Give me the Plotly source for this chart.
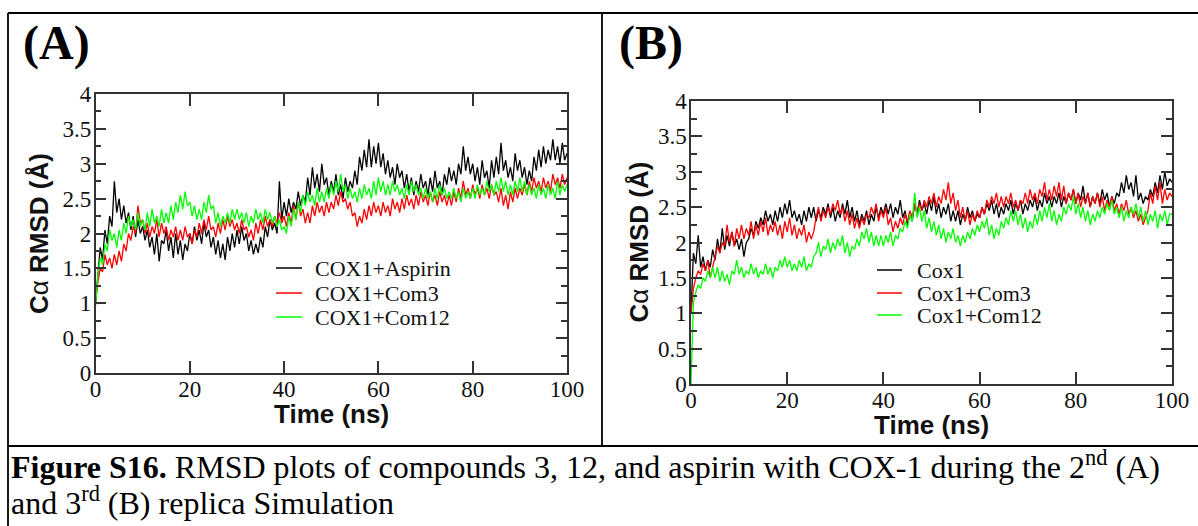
import plotly.graph_objects as go

# Sampling grid of the trajectories: one frame every 0.5 ns over 100 ns
TIME_NS = [i * 0.5 for i in range(201)]

# ---- Replica 2 (panel A), C-alpha RMSD in angstrom ----
A_ASPIRIN = [
    1.00, 1.45, 1.80, 1.62, 2.05, 1.85, 2.25, 2.10, 2.75, 2.30,
    2.50, 2.20, 2.40, 2.15, 2.30, 2.05, 2.25, 1.95, 2.20, 2.00,
    2.10, 1.90, 2.05, 1.80, 1.95, 1.70, 2.00, 1.60, 1.90, 1.85,
    2.05, 1.75, 1.95, 1.65, 2.00, 1.70, 1.90, 1.62, 1.85, 1.75,
    2.00, 1.85, 2.10, 1.90, 2.05, 1.85, 2.15, 1.95, 2.05, 1.80,
    1.95, 1.70, 1.90, 1.65, 1.85, 1.62, 1.95, 1.75, 2.00, 1.80,
    2.05, 1.85, 2.10, 1.90, 2.00, 1.75, 1.90, 1.70, 1.85, 1.72,
    1.95, 1.80, 2.10, 1.95, 2.20, 2.05, 2.15, 2.00, 2.75, 2.20,
    2.45, 2.25, 2.50, 2.30, 2.45, 2.35, 2.60, 2.40, 2.55, 2.45,
    2.80, 2.55, 2.95, 2.65, 2.85, 2.60, 3.00, 2.70, 2.80, 2.55,
    2.75, 2.60, 2.85, 2.55, 2.70, 2.50, 2.80, 2.60, 2.75, 2.65,
    2.90, 2.70, 3.10, 2.90, 3.20, 2.95, 3.35, 2.95, 3.25, 3.00,
    3.30, 2.95, 3.15, 2.85, 3.05, 2.80, 2.95, 2.70, 3.00, 2.80,
    2.90, 2.65, 2.85, 2.60, 2.80, 2.55, 2.75, 2.60, 2.85, 2.65,
    2.75, 2.55, 2.80, 2.60, 2.90, 2.65, 2.75, 2.55, 2.85, 2.70,
    2.95, 2.75, 2.90, 2.70, 3.00, 2.85, 3.25, 2.90, 3.10, 2.85,
    3.00, 2.75, 2.95, 2.70, 3.05, 2.80, 2.90, 2.65, 3.05, 2.80,
    3.10, 2.85, 3.30, 2.90, 3.05, 2.80, 2.95, 2.75, 3.15, 2.90,
    3.05, 2.80, 2.95, 2.70, 2.90, 2.75, 3.10, 2.90, 3.20, 2.95,
    3.25, 3.00, 3.20, 3.05, 3.35, 3.05, 3.25, 3.00, 3.30, 3.05,
    3.15,
]
A_COM3 = [
    1.00, 1.30, 1.50, 1.45, 1.70, 1.55, 1.65, 1.50, 1.70, 1.55,
    1.75, 1.60, 1.85, 1.75, 2.00, 1.90, 2.10, 2.00, 2.40, 2.15,
    2.20, 2.00, 2.15, 1.95, 2.10, 2.00, 2.20, 1.95, 2.15, 2.00,
    2.10, 1.90, 2.05, 1.95, 2.10, 1.90, 2.05, 1.90, 2.10, 1.95,
    2.00, 1.85, 2.05, 1.95, 2.15, 2.00, 2.20, 2.05, 2.25, 2.05,
    2.10, 1.95, 2.15, 2.00, 2.20, 2.05, 2.25, 2.10, 2.20, 2.05,
    2.15, 2.00, 2.20, 2.05, 2.10, 1.95, 2.05, 1.90, 2.15, 2.00,
    2.20, 2.05, 2.25, 2.10, 2.20, 2.10, 2.25, 2.15, 2.30, 2.15,
    2.25, 2.10, 2.30, 2.15, 2.40, 2.20, 2.45, 2.25, 2.35, 2.15,
    2.30, 2.15, 2.40, 2.25, 2.45, 2.30, 2.40, 2.25, 2.45, 2.30,
    2.45, 2.35, 2.55, 2.40, 2.60, 2.45, 2.50, 2.35, 2.45, 2.25,
    2.30, 2.10, 2.25, 2.15, 2.35, 2.20, 2.40, 2.25, 2.45, 2.30,
    2.40, 2.25, 2.45, 2.30, 2.40, 2.25, 2.50, 2.35, 2.45, 2.30,
    2.50, 2.35, 2.55, 2.40, 2.50, 2.35, 2.55, 2.40, 2.60, 2.45,
    2.55, 2.40, 2.60, 2.45, 2.55, 2.40, 2.60, 2.45, 2.55, 2.40,
    2.55, 2.40, 2.60, 2.45, 2.65, 2.50, 2.75, 2.55, 2.65, 2.50,
    2.70, 2.55, 2.65, 2.50, 2.70, 2.55, 2.65, 2.50, 2.70, 2.55,
    2.60, 2.45, 2.65, 2.40, 2.55, 2.35, 2.60, 2.45, 2.65, 2.50,
    2.65, 2.55, 2.70, 2.55, 2.75, 2.60, 2.80, 2.65, 2.75, 2.60,
    2.80, 2.65, 2.75, 2.60, 2.85, 2.70, 2.80, 2.65, 2.85, 2.70,
    2.80,
]
A_COM12 = [
    0.95, 1.40, 1.65, 1.55, 1.85, 1.75, 2.05, 1.90, 2.00, 1.80,
    2.05, 1.90, 2.15, 2.00, 2.25, 2.10, 2.20, 2.05, 2.30, 2.10,
    2.20, 2.05, 2.30, 2.10, 2.35, 2.15, 2.25, 2.10, 2.35, 2.15,
    2.30, 2.15, 2.40, 2.20, 2.45, 2.30, 2.55, 2.35, 2.60, 2.40,
    2.45, 2.25, 2.40, 2.20, 2.35, 2.20, 2.45, 2.30, 2.55, 2.35,
    2.40, 2.15, 2.30, 2.10, 2.25, 2.15, 2.30, 2.15, 2.35, 2.20,
    2.35, 2.20, 2.30, 2.15, 2.30, 2.10, 2.25, 2.15, 2.35, 2.20,
    2.30, 2.15, 2.35, 2.20, 2.30, 2.15, 2.25, 2.10, 2.20, 2.05,
    2.10, 2.00, 2.25, 2.10, 2.35, 2.20, 2.45, 2.30, 2.55, 2.40,
    2.60, 2.45, 2.55, 2.40, 2.65, 2.45, 2.60, 2.45, 2.65, 2.50,
    2.70, 2.55, 2.75, 2.60, 2.85, 2.60, 2.70, 2.50, 2.65, 2.50,
    2.60, 2.45, 2.65, 2.50, 2.70, 2.55, 2.65, 2.50, 2.75, 2.55,
    2.80, 2.60, 2.75, 2.55, 2.70, 2.55, 2.75, 2.60, 2.70, 2.55,
    2.65, 2.50, 2.70, 2.55, 2.75, 2.60, 2.70, 2.55, 2.65, 2.50,
    2.65, 2.50, 2.60, 2.45, 2.65, 2.50, 2.70, 2.55, 2.65, 2.50,
    2.60, 2.50, 2.65, 2.50, 2.60, 2.45, 2.65, 2.50, 2.60, 2.50,
    2.65, 2.50, 2.70, 2.55, 2.65, 2.55, 2.75, 2.60, 2.70, 2.55,
    2.75, 2.60, 2.80, 2.60, 2.75, 2.55, 2.70, 2.55, 2.75, 2.60,
    2.80, 2.60, 2.75, 2.55, 2.70, 2.55, 2.65, 2.50, 2.70, 2.55,
    2.65, 2.50, 2.70, 2.55, 2.65, 2.50, 2.75, 2.55, 2.70, 2.60,
    2.70,
]

# ---- Replica 3 (panel B), C-alpha RMSD in angstrom ----
B_COX1 = [
    1.00, 1.85, 1.70, 2.10, 1.65, 1.80, 1.60, 1.75, 1.65, 1.90,
    1.75, 2.05, 1.85, 2.20, 1.90, 2.10, 1.95, 2.15, 1.95, 2.05,
    1.90, 2.05, 1.80, 2.00, 2.05, 2.20, 2.10, 2.30, 2.20, 2.35,
    2.25, 2.45, 2.30, 2.40, 2.25, 2.45, 2.30, 2.50, 2.35, 2.55,
    2.40, 2.60, 2.35, 2.45, 2.30, 2.40, 2.25, 2.45, 2.30, 2.50,
    2.35, 2.50, 2.30, 2.45, 2.35, 2.50, 2.40, 2.55, 2.35, 2.50,
    2.30, 2.45, 2.35, 2.55, 2.40, 2.60, 2.35, 2.50, 2.30, 2.45,
    2.25, 2.40, 2.30, 2.45, 2.25, 2.40, 2.30, 2.50, 2.35, 2.50,
    2.40, 2.55, 2.40, 2.55, 2.35, 2.50, 2.40, 2.60, 2.35, 2.45,
    2.25, 2.40, 2.30, 2.55, 2.40, 2.60, 2.45, 2.55, 2.40, 2.60,
    2.45, 2.65, 2.40, 2.55, 2.35, 2.50, 2.40, 2.55, 2.30, 2.45,
    2.30, 2.45, 2.25, 2.40, 2.30, 2.50, 2.35, 2.45, 2.30, 2.40,
    2.35, 2.50, 2.40, 2.55, 2.45, 2.60, 2.40, 2.55, 2.35, 2.50,
    2.40, 2.55, 2.45, 2.60, 2.40, 2.55, 2.45, 2.60, 2.40, 2.55,
    2.45, 2.60, 2.50, 2.65, 2.45, 2.60, 2.50, 2.70, 2.55, 2.65,
    2.50, 2.65, 2.55, 2.70, 2.50, 2.65, 2.55, 2.70, 2.60, 2.75,
    2.55, 2.70, 2.60, 2.80, 2.55, 2.70, 2.50, 2.65, 2.55, 2.70,
    2.55, 2.75, 2.60, 2.70, 2.50, 2.65, 2.55, 2.70, 2.65, 2.85,
    2.70, 2.95, 2.75, 2.85, 2.65, 2.95, 2.60, 2.70, 2.55, 2.65,
    2.60, 2.75, 2.65, 2.85, 2.70, 2.95, 2.75, 3.00, 2.80, 2.90,
    2.85,
]
B_COM3 = [
    1.00, 1.35, 1.50, 1.60, 1.55, 1.70, 1.60, 1.75, 1.50, 1.65,
    1.80, 1.95, 1.85, 2.00, 1.95, 2.25, 2.00, 2.15, 1.95, 2.20,
    2.05, 2.25, 2.05, 2.20, 2.10, 2.30, 2.05, 2.25, 2.10, 2.30,
    2.15, 2.35, 2.10, 2.25, 2.15, 2.30, 2.10, 2.25, 2.05, 2.30,
    2.15, 2.35, 2.10, 2.25, 2.05, 2.20, 2.10, 2.25, 2.00, 2.15,
    2.05, 2.15, 2.35, 2.50, 2.30, 2.45, 2.35, 2.50, 2.40, 2.55,
    2.45, 2.60, 2.40, 2.50, 2.30, 2.45, 2.25, 2.40, 2.20, 2.35,
    2.20, 2.35, 2.25, 2.40, 2.35, 2.50, 2.40, 2.55, 2.30, 2.45,
    2.35, 2.50, 2.25, 2.35, 2.15, 2.30, 2.20, 2.35, 2.25, 2.40,
    2.30, 2.45, 2.35, 2.55, 2.40, 2.55, 2.45, 2.60, 2.50, 2.65,
    2.55, 2.70, 2.50, 2.65, 2.55, 2.75, 2.60, 2.85, 2.55, 2.70,
    2.45, 2.60, 2.35, 2.50, 2.30, 2.45, 2.25, 2.40, 2.30, 2.45,
    2.35, 2.50, 2.40, 2.60, 2.50, 2.65, 2.55, 2.70, 2.50, 2.65,
    2.50, 2.65, 2.55, 2.70, 2.50, 2.60, 2.45, 2.60, 2.55, 2.70,
    2.55, 2.75, 2.60, 2.70, 2.55, 2.75, 2.65, 2.85, 2.60, 2.75,
    2.60, 2.80, 2.65, 2.85, 2.60, 2.80, 2.55, 2.70, 2.60, 2.75,
    2.55, 2.70, 2.50, 2.65, 2.55, 2.70, 2.50, 2.65, 2.55, 2.70,
    2.50, 2.65, 2.45, 2.60, 2.50, 2.65, 2.45, 2.55, 2.40, 2.55,
    2.45, 2.60, 2.40, 2.50, 2.35, 2.45, 2.30, 2.40, 2.25, 2.35,
    2.45, 2.70, 2.55, 2.80, 2.60, 2.85, 2.55, 2.75, 2.60, 2.70,
    2.65,
]
B_COM12 = [
    0.00, 1.15, 1.30, 1.40, 1.35, 1.50, 1.45, 1.60, 1.50, 1.65,
    1.50, 1.65, 1.45, 1.60, 1.45, 1.55, 1.40, 1.60, 1.55, 1.75,
    1.55, 1.65, 1.50, 1.60, 1.55, 1.70, 1.55, 1.65, 1.50, 1.60,
    1.55, 1.70, 1.55, 1.65, 1.50, 1.65, 1.60, 1.75, 1.65, 1.80,
    1.65, 1.75, 1.60, 1.70, 1.60, 1.75, 1.65, 1.80, 1.60, 1.70,
    1.65, 1.80, 1.85, 2.00, 1.80, 1.95, 1.90, 2.05, 1.85, 2.00,
    1.90, 2.05, 1.95, 2.10, 1.85, 2.00, 1.80, 1.95, 1.90, 2.05,
    1.95, 2.15, 2.05, 2.20, 2.00, 2.15, 1.95, 2.10, 1.95, 2.10,
    1.95, 2.10, 2.00, 2.15, 1.95, 2.10, 2.05, 2.20, 2.15, 2.30,
    2.20, 2.40, 2.30, 2.70, 2.35, 2.50, 2.30, 2.45, 2.20, 2.35,
    2.15, 2.30, 2.10, 2.25, 2.05, 2.20, 2.00, 2.15, 2.05, 2.20,
    2.00, 2.10, 1.95, 2.10, 2.00, 2.15, 2.05, 2.20, 2.10, 2.25,
    2.15, 2.30, 2.20, 2.35, 2.10, 2.25, 2.05, 2.20, 2.10, 2.30,
    2.20, 2.35, 2.25, 2.45, 2.30, 2.45, 2.25, 2.40, 2.20, 2.35,
    2.15, 2.30, 2.20, 2.40, 2.25, 2.45, 2.30, 2.50, 2.35, 2.55,
    2.30, 2.45, 2.25, 2.40, 2.30, 2.50, 2.40, 2.55, 2.45, 2.65,
    2.40, 2.55, 2.35, 2.50, 2.30, 2.45, 2.25, 2.40, 2.30, 2.45,
    2.35, 2.50, 2.40, 2.55, 2.45, 2.60, 2.40, 2.50, 2.35, 2.50,
    2.30, 2.45, 2.35, 2.50, 2.40, 2.55, 2.35, 2.50, 2.30, 2.45,
    2.25, 2.40, 2.30, 2.45, 2.20, 2.40, 2.30, 2.45, 2.25, 2.40,
    2.40,
]

NAMES_A = ["COX1+Aspirin", "COX1+Com3", "COX1+Com12"]
NAMES_B = ["Cox1", "Cox1+Com3", "Cox1+Com12"]
X_TICKS = [0, 20, 40, 60, 80, 100]
COLORS = ["#000000", "#ff0000", "#00ff00"]

W, H = 1198, 526
SERIF = "Liberation Serif, Times New Roman, serif"
SANS = "Liberation Sans, Arial, sans-serif"
INK = "#111111"


def px_x(v):
    return v / W


def px_y(v):
    return 1 - v / H


fig = go.Figure()

for name, ys, col in zip(NAMES_A, [A_ASPIRIN, A_COM3, A_COM12], COLORS):
    fig.add_trace(go.Scatter(
        x=TIME_NS, y=ys, name=name, mode="lines",
        line=dict(color=col, width=1.3),
        xaxis="x", yaxis="y", showlegend=False,
    ))
for name, ys, col in zip(NAMES_B, [B_COX1, B_COM3, B_COM12], COLORS):
    fig.add_trace(go.Scatter(
        x=TIME_NS, y=ys, name=name, mode="lines",
        line=dict(color=col, width=1.3),
        xaxis="x2", yaxis="y2", showlegend=False,
    ))

frame = dict(
    showline=True, linecolor="#333333", linewidth=1.5, mirror="ticks",
    ticks="inside", tickcolor="#333333", tickwidth=1.5,
    showgrid=False, zeroline=False, automargin=False,
    tickfont=dict(family=SERIF, size=23, color=INK),
)
xcommon = dict(frame, range=[0, 100], tickvals=X_TICKS, ticklen=12,
               ticklabelstandoff=-5)
ycommon = dict(frame, range=[0, 4], dtick=0.5, tick0=0, ticklen=11,
               ticklabelstandoff=-2,
               minor=dict(dtick=0.25, ticklen=6, ticks="inside",
                          tickcolor="#333333", tickwidth=1.5))

fig.update_layout(
    width=W, height=H,
    margin=dict(l=0, r=0, t=0, b=0),
    paper_bgcolor="white", plot_bgcolor="white",
    xaxis=dict(xcommon, domain=[px_x(95.5), px_x(567)], anchor="y"),
    yaxis=dict(ycommon, domain=[px_y(373), px_y(94)], anchor="x"),
    xaxis2=dict(xcommon, domain=[px_x(691), px_x(1172)], anchor="y2"),
    yaxis2=dict(ycommon, domain=[px_y(384), px_y(101)], anchor="x2"),
)

# Axis titles, placed relative to each plot frame
title_font = dict(family=SANS, size=26, color=INK)
for xa, ya, yshift_x, xshift_y in [("x", "y", -41, -57), ("x2", "y2", -41, -53)]:
    fig.add_annotation(text="<b>Time (ns)</b>", xref=f"{xa} domain",
                       yref=f"{ya} domain", x=0.5, y=0, yshift=yshift_x,
                       xanchor="center", yanchor="middle", showarrow=False,
                       font=title_font)
    fig.add_annotation(text="<b>C</b>α<b> RMSD (Å)</b>", xref=f"{xa} domain",
                       yref=f"{ya} domain", x=0, y=0.5, xshift=xshift_y,
                       textangle=-90, xanchor="center", yanchor="middle",
                       showarrow=False, font=title_font)

# Legends in the xmgrace style: short line sample followed by the label
legend_specs = [
    (NAMES_A, 276, 302, 313, [268, 293, 317]),
    (NAMES_B, 877, 902, 915, [270, 293, 315]),
]
for names, lx0, lx1, tx, rows in legend_specs:
    for name, col, yrow in zip(names, COLORS, rows):
        fig.add_shape(type="line", xref="paper", yref="paper",
                      x0=px_x(lx0), x1=px_x(lx1), y0=px_y(yrow), y1=px_y(yrow),
                      line=dict(color=col, width=1.5))
        fig.add_annotation(text=name, xref="paper", yref="paper",
                           x=px_x(tx), y=px_y(yrow), xanchor="left",
                           yanchor="middle", showarrow=False,
                           font=dict(family=SERIF, size=22, color=INK))

# Table rules around the two panels and the caption row
line_style = dict(color="#000000", width=1.8)
rules = [
    (8, 13, W + 10, 13),
    (8, 13, 8, H + 10),
    (602, 13, 602, 446),
    (8, 446, W + 10, 446),
]
for x0, y0, x1, y1 in rules:
    fig.add_shape(type="line", xref="paper", yref="paper",
                  x0=px_x(x0), y0=px_y(y0), x1=px_x(x1), y1=px_y(y1),
                  line=line_style)

# Panel letters
for label, xl in [("(A)", 21), ("(B)", 617)]:
    fig.add_annotation(text=f"<b>{label}</b>", xref="paper", yref="paper",
                       x=px_x(xl), y=px_y(43), xanchor="left", yanchor="middle",
                       showarrow=False,
                       font=dict(family=SERIF, size=48, color="#000000"))

# Caption
caption = [
    ("<b>Figure S16.</b> RMSD plots of compounds 3, 12, and aspirin with COX-1 "
     "during the 2<sup>nd</sup> (A)", 465),
    ("and 3<sup>rd</sup> (B) replica Simulation", 501),
]
for text, yc in caption:
    fig.add_annotation(text=text, xref="paper", yref="paper",
                       x=px_x(9), y=px_y(yc), xanchor="left", yanchor="middle",
                       showarrow=False,
                       font=dict(family=SERIF, size=32, color="#000000"))

fig.write_html("out.html")
